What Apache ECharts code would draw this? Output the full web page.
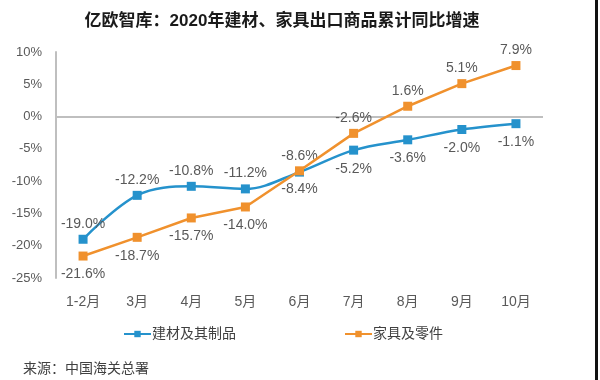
<!DOCTYPE html>
<html><head><meta charset="utf-8">
<script src="https://cdn.jsdelivr.net/npm/echarts@6/dist/echarts.min.js"></script>
<style>html,body{margin:0;padding:0;background:#fff}#c{width:600px;height:380px}</style>
</head><body><div id="c"></div>
<script>
const categories = ['1-2月','3月','4月','5月','6月','7月','8月','9月','10月'];
const jiancai = [-19.0, -12.2, -10.8, -11.2, -8.6, -5.2, -3.6, -2.0, -1.1];
const jiaju = [-21.6, -18.7, -15.7, -14.0, -8.4, -2.6, 1.6, 5.1, 7.9];
const seriesNames = ['建材及其制品', '家具及零件'];
const titleText = '亿欧智库：2020年建材、家具出口商品累计同比增速';
const sourceText = '来源：中国海关总署';

const BLUE = '#2592CC', ORANGE = '#F0912D';
const FONT = 'Arial, "Liberation Sans", "Noto Sans CJK SC", sans-serif';
const lbl = (pos) => ({
  show: true, position: pos, distance: pos === 'top' ? 4 : 7,
  color: '#595959', fontSize: 14, fontFamily: FONT,
  formatter: p => p.value.toFixed(1) + '%'
});
// blue labels above while it leads (first five periods), below afterwards
const blueData = jiancai.map((v, i) => ({ value: v, label: lbl(i <= 4 ? 'top' : 'bottom') }));
const orangeData = jiaju.map((v, i) => ({ value: v, label: lbl(i <= 4 ? 'bottom' : 'top') }));

const chart = echarts.init(document.getElementById('c'), null, { renderer: 'canvas' });
chart.setOption({
  animation: false,
  backgroundColor: '#fff',
  title: {
    text: titleText, left: 277, top: 8, textAlign: 'center',
    textStyle: { fontSize: 17, fontWeight: 'bold', color: '#1a1a1a', fontFamily: FONT }
  },
  legend: {
    data: seriesNames, bottom: 34, left: 118, itemGap: 108,
    itemWidth: 27, itemHeight: 8,
    textStyle: { fontSize: 14, color: '#404040', fontFamily: FONT, padding: [0, 0, 0, -4] }
  },
  graphic: [
    { type: 'text', left: 23, top: 362, style: { text: sourceText, fontSize: 14, fill: '#404040', fontFamily: FONT } },
    { type: 'rect', right: 2, top: 0, shape: { width: 3, height: 380 }, style: { fill: '#111' } }
  ],
  grid: { left: 56, right: 57, top: 52, bottom: 102 },
  xAxis: {
    type: 'category', data: categories, boundaryGap: true,
    axisLine: { show: false }, axisTick: { show: false },
    axisLabel: { color: '#595959', fontSize: 14, margin: 17, fontFamily: FONT }
  },
  yAxis: {
    type: 'value', min: -25, max: 10, interval: 5,
    axisLine: { show: true, lineStyle: { color: '#BFBFBF', width: 2 } },
    axisTick: { show: false }, splitLine: { show: false },
    axisLabel: { color: '#595959', fontSize: 13, margin: 14, fontFamily: FONT, formatter: v => v + '%' }
  },
  series: [
    {
      name: seriesNames[0], type: 'line', data: blueData, smooth: 0.35,
      symbol: 'rect', symbolSize: 9, itemStyle: { color: BLUE },
      lineStyle: { color: BLUE, width: 2.5 }, z: 3,
      markLine: {
        silent: true, symbol: 'none', label: { show: false }, z: 1,
        lineStyle: { color: '#BFBFBF', width: 2, type: 'solid' },
        data: [{ yAxis: 0 }]
      }
    },
    {
      name: seriesNames[1], type: 'line', data: orangeData,
      symbol: 'rect', symbolSize: 9, itemStyle: { color: ORANGE },
      lineStyle: { color: ORANGE, width: 2.5 }, z: 4
    }
  ]
});
</script></body></html>
